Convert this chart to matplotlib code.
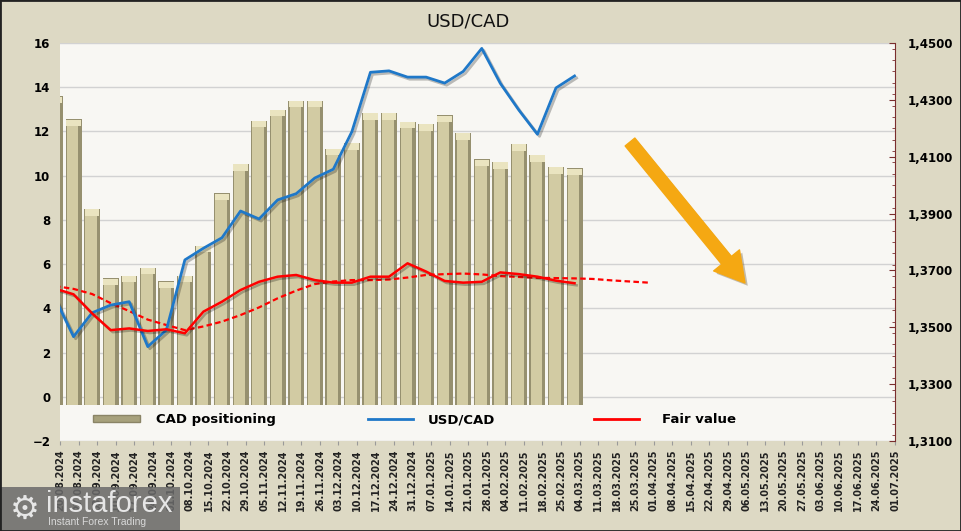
import numpy as np
import matplotlib
matplotlib.use('Agg')
import matplotlib.pyplot as plt
import matplotlib.patheffects as pe
from matplotlib.patches import Patch, Rectangle
from matplotlib.lines import Line2D
from matplotlib.ticker import FuncFormatter, MultipleLocator

# Weekly dates shown on the x axis
dates = ['20.08.2024', '27.08.2024', '03.09.2024', '10.09.2024', '17.09.2024', '24.09.2024',
         '01.10.2024', '08.10.2024', '15.10.2024', '22.10.2024', '29.10.2024', '05.11.2024',
         '12.11.2024', '19.11.2024', '26.11.2024', '03.12.2024', '10.12.2024', '17.12.2024',
         '24.12.2024', '31.12.2024', '07.01.2025', '14.01.2025', '21.01.2025', '28.01.2025',
         '04.02.2025', '11.02.2025', '18.02.2025', '25.02.2025', '04.03.2025', '11.03.2025',
         '18.03.2025', '25.03.2025', '01.04.2025', '08.04.2025', '15.04.2025', '22.04.2025',
         '29.04.2025', '06.05.2025', '13.05.2025', '20.05.2025', '27.05.2025', '03.06.2025',
         '10.06.2025', '17.06.2025', '24.06.2025', '01.07.2025']

# CAD net positioning (left axis)
cad_positioning = [13.6, 12.56, 8.49, 5.35, 5.47, 5.84, 5.22, 5.47, 6.83, 9.2,
                   10.53, 12.49, 12.99, 13.39, 13.39, 11.22, 11.48, 12.84, 12.84, 12.44,
                   12.34, 12.74, 11.93, 10.75, 10.62, 11.43, 10.94, 10.39, 10.33]

# USD/CAD price (right axis)
usdcad = [1.3603, 1.3467, 1.3551, 1.3578, 1.3590, 1.3432, 1.3490, 1.3737, 1.3778, 1.3815,
          1.3909, 1.3881, 1.3948, 1.3970, 1.4025, 1.4056, 1.4188, 1.4397, 1.4402, 1.4380,
          1.4380, 1.4359, 1.4400, 1.4481, 1.4358, 1.4264, 1.4179, 1.4342, 1.4384]

# Fair value (right axis)
fair_value = [1.3636, 1.3616, 1.3549, 1.3490, 1.3496, 1.3487, 1.3493, 1.3479, 1.3555, 1.3590,
              1.3631, 1.3660, 1.3678, 1.3684, 1.3666, 1.3657, 1.3657, 1.3678, 1.3678, 1.3725,
              1.3696, 1.3663, 1.3657, 1.3660, 1.3693, 1.3687, 1.3678, 1.3664, 1.3655]

# Fair value trend (dashed, extends a few weeks ahead)
fair_trend = [1.3645, 1.3635, 1.3617, 1.3585, 1.3557, 1.3527, 1.3508, 1.3490, 1.3503, 1.3520,
              1.3543, 1.3570, 1.3602, 1.3629, 1.3652, 1.3661, 1.3666, 1.3666, 1.3668, 1.3675,
              1.3684, 1.3687, 1.3689, 1.3686, 1.3680, 1.3677, 1.3674, 1.3673, 1.3672, 1.3670,
              1.3665, 1.3661, 1.3657]

fig_bg = '#DDD9C4'
plot_bg = '#F8F7F3'
shift = -0.27   # series sit slightly left of the date labels

fig = plt.figure(figsize=(9.61, 5.31), dpi=100, facecolor=fig_bg)
W, H = 961, 531
ax = fig.add_axes([60 / W, (H - 441) / H, 835 / W, 398 / H])
ax.set_facecolor(plot_bg)

x_lab = np.arange(len(dates))
xb = np.arange(len(cad_positioning)) + shift
vals = np.array(cad_positioning)
base = -0.35

# bevelled bars: dark frame, lighter face, bright cap
ax.bar(xb, vals - base, width=0.86, bottom=base, color='#96906F', zorder=2)
ax.bar(xb - 0.05, vals - base - 0.25, width=0.62, bottom=base, color='#D2CBA3', zorder=3)
ax.bar(xb, 0.28, width=0.78, bottom=vals - 0.3, color='#EAE4C0', zorder=3)

ax.set_xlim(0, len(dates) - 1)
ax.set_ylim(-2, 16)
ax.set_yticks(range(-2, 17, 2))
ax.yaxis.grid(True, color='#D2D2D2', lw=1)
ax.set_axisbelow(True)
for s in ax.spines.values():
    s.set_visible(False)
ax.tick_params(axis='y', length=0, pad=7, labelsize=8.5)
for t in ax.get_yticklabels():
    t.set_fontweight('bold')
ax.set_xticks(x_lab)
ax.set_xticklabels(dates, rotation=90, fontsize=7, fontweight='bold', color='#222222')
ax.tick_params(axis='x', length=3, color='#9A9A9A', pad=3)

ax2 = ax.twinx()
ax2.set_ylim(1.31, 1.45)
ax2.set_yticks(np.arange(1.31, 1.4501, 0.02))
ax2.yaxis.set_minor_locator(MultipleLocator(0.004))
ax2.yaxis.set_major_formatter(FuncFormatter(lambda v, p: f'{v:.4f}'.replace('.', ',')))
for k, s in ax2.spines.items():
    s.set_visible(k == 'right')
ax2.spines['right'].set_color('#7A2E2E')
ax2.tick_params(axis='y', which='major', direction='in', length=4, color='#7A2E2E',
                pad=9, labelsize=8.5)
ax2.tick_params(axis='y', which='minor', direction='in', length=2.5, color='#7A2E2E')
for t in ax2.get_yticklabels():
    t.set_fontweight('bold')

shadow = [pe.SimpleLineShadow(offset=(1.5, -1.5), alpha=0.25), pe.Normal()]
ax2.plot(np.arange(len(usdcad)) + shift, usdcad, color='#1F78C8', lw=2, zorder=5,
         path_effects=shadow)
ax2.plot(np.arange(len(fair_value)) + shift, fair_value, color='#FF0000', lw=1.8, zorder=5,
         path_effects=shadow)
ax2.plot(np.arange(len(fair_trend)) + shift, fair_trend, color='#FF0000', lw=1.6,
         ls=(0, (2.5, 1.5)), zorder=4)

# legends
leg_font = dict(size=9.5, weight='bold')
l1 = ax2.legend([Patch(facecolor='#A7A17C', edgecolor='#8A8466')], ['CAD positioning'],
                loc='center left', bbox_to_anchor=(0.035 - 0.01, 0.053), frameon=False,
                prop=leg_font, handlelength=3.6, handleheight=0.5, handletextpad=1.2)
ax2.add_artist(l1)
l2 = ax2.legend([Line2D([], [], color='#1F78C8', lw=2)], ['USD/CAD'],
                loc='center left', bbox_to_anchor=(0.355, 0.053), frameon=False,
                prop=leg_font, handlelength=3.4, handletextpad=1.1)
ax2.add_artist(l2)
ax2.legend([Line2D([], [], color='#FF0000', lw=2)], ['Fair value'],
           loc='center left', bbox_to_anchor=(0.625, 0.053), frameon=False,
           prop=leg_font, handlelength=3.4, handletextpad=1.8)

fig.text(468 / W, 1 - 22 / H, 'USD/CAD', ha='center', va='center', fontsize=13, color='#111111')

# orange arrow
ax2.annotate('', xy=(745, H - 283), xytext=(630, H - 142), xycoords='figure pixels',
             textcoords='figure pixels',
             arrowprops=dict(arrowstyle='simple,head_length=2.1,head_width=2.4,tail_width=0.9',
                             color='#F5A812', shrinkA=0, shrinkB=0,
                             path_effects=[pe.SimplePatchShadow(offset=(2, -2), alpha=0.3),
                                           pe.Normal()]))

# watermark
fig.patches.append(Rectangle((0, 0), 180 / W, 44 / H, transform=fig.transFigure,
                             facecolor='#6A6A6A', alpha=0.85, edgecolor='none', zorder=10))
fig.text(25 / W, 22 / H, '\u2699', fontsize=24, color='#E6E6E6', ha='center', va='center',
         zorder=11)
fig.text(46 / W, 27 / H, 'instaforex', fontsize=21, color='#E6E6E6', family='Liberation Sans',
         ha='left', va='center', zorder=11)
fig.text(48 / W, 9 / H, 'Instant Forex Trading', fontsize=7.5, color='#D8D8D8',
         family='Liberation Sans', ha='left', va='center', zorder=11)

# outer border
fig.patches.append(Rectangle((0, 0), 1, 1, transform=fig.transFigure, fill=False,
                             edgecolor='#222222', lw=2, zorder=12))

fig.savefig('out.png', dpi=100, facecolor=fig_bg)
